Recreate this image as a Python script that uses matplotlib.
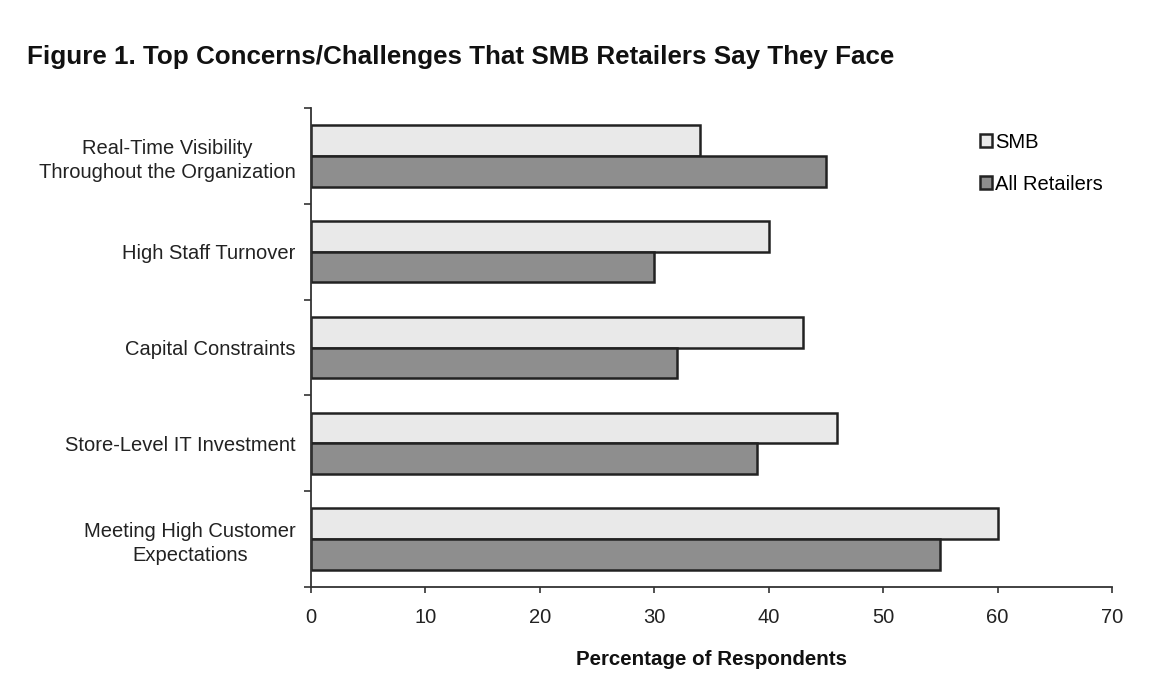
import matplotlib
matplotlib.use("Agg")
import matplotlib.pyplot as plt
import numpy as np

categories = ["Real-Time Visibility\nThroughout the Organization",
              "High Staff Turnover",
              "Capital Constraints",
              "Store-Level IT Investment",
              "Meeting High Customer\nExpectations"]
smb = [34, 40, 43, 46, 60]
all_retailers = [45, 30, 32, 39, 55]
series_names = ["SMB", "All Retailers"]
xticks = [0, 10, 20, 30, 40, 50, 60, 70]

plt.rcParams['font.family'] = ['Liberation Sans', 'DejaVu Sans']

fig = plt.figure(figsize=(11.54, 6.76), dpi=100)
ax = fig.add_axes([311/1154, 1-587/676, (1112-311)/1154, (587-108)/676])

n = len(categories)
pos = np.arange(n)
h = 0.32
ax.barh(pos - h/2, smb, height=h, color="#e9e9e9", edgecolor="#222222", linewidth=1.8, label=series_names[0])
ax.barh(pos + h/2, all_retailers, height=h, color="#8e8e8e", edgecolor="#222222", linewidth=1.8, label=series_names[1])

ax.set_ylim(n - 0.5, -0.5)
ax.set_xlim(0, 70)
ax.set_xticks(xticks)
ax.set_xticklabels([str(t) for t in xticks], fontsize=14.5, color="#222222")
ax.set_yticks(pos)
ax.set_yticklabels(categories, fontsize=14.5, color="#222222", multialignment="center",
                   linespacing=1.35)
ax.tick_params(axis='y', length=0, pad=11)
ax.set_yticks(np.arange(n + 1) - 0.5, minor=True)
ax.tick_params(axis='y', which='minor', length=5, width=1.2, color="#333333")
ax.tick_params(axis='x', length=4, width=1.2, color="#333333", pad=11)

for s in ['top', 'right']:
    ax.spines[s].set_visible(False)
for s in ['left', 'bottom']:
    ax.spines[s].set_linewidth(1.3)
    ax.spines[s].set_color("#333333")

ax.set_xlabel("Percentage of Respondents", fontsize=14.8, fontweight='bold', labelpad=17, color="#111111")

leg = ax.legend(loc='upper left', bbox_to_anchor=(0.825, 0.965), frameon=False, fontsize=14.5,
                handlelength=0.6, handleheight=0.6, handletextpad=0.15, labelspacing=1.15,
                borderaxespad=0)

fig.text(27/1154, 1-57/676, "Figure 1. Top Concerns/Challenges That SMB Retailers Say They Face",
         fontsize=18.7, fontweight='bold', va='center', ha='left', color="#111111")

fig.savefig("out.png", dpi=100, facecolor="white")
